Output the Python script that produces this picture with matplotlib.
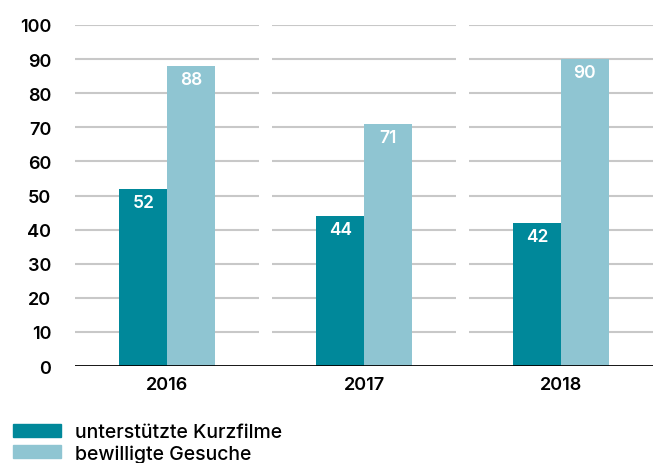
import matplotlib.pyplot as plt
import matplotlib.patches as mpatches
import numpy as np

plt.rcParams['font.family'] = ['Inter', 'DejaVu Sans']

# ----------------------------------------------------------------------------------------------------------------------
years = ['2016', '2017', '2018']
kurzfilme = [52, 44, 42]
gesuche = [88, 71, 90]
series_names = ['unterstützte Kurzfilme', 'bewilligte Gesuche']
y_ticks = [0, 10, 20, 30, 40, 50, 60, 70, 80, 90, 100]

dark = '#00889a'
light = '#8fc5d2'
# ----------------------------------------------------------------------------------------------------------------------

fig = plt.figure(figsize=(6.53, 4.64), dpi=100)
ax = fig.add_axes([0.115, 0.209, 0.885, 0.735])

x = np.arange(len(years))
w = 0.242

# grid segments, one per year group
for yv in y_ticks[1:]:
    ax.hlines(np.full(len(x), yv), x - 0.467, x + 0.467, color='#c8c8c8', lw=1.5, zorder=0)

b1 = ax.bar(x - w / 2, kurzfilme, w, color=dark, zorder=2)
b2 = ax.bar(x + w / 2, gesuche, w, color=light, zorder=2)

for bars, vals in [(b1, kurzfilme), (b2, gesuche)]:
    for bar, v in zip(bars, vals):
        ax.text(bar.get_x() + bar.get_width() / 2, v - 4, str(v), ha='center', va='center',
                color='white', fontsize=12.5, fontweight='semibold', zorder=3)

ax.axhline(0, color='black', lw=2, zorder=3)

ax.set_xlim(-0.467, 2.467)
ax.set_ylim(0, 100)
ax.set_yticks(y_ticks)
ax.set_xticks(x)
ax.set_xticklabels(years)
ax.tick_params(length=0, labelsize=13)
ax.tick_params(axis='y', pad=17)
ax.tick_params(axis='x', pad=7)
for lab in ax.get_xticklabels() + ax.get_yticklabels():
    lab.set_fontweight('semibold')
for s in ax.spines.values():
    s.set_visible(False)

handles = [mpatches.Patch(color=dark, label=series_names[0]),
           mpatches.Patch(color=light, label=series_names[1])]
leg = fig.legend(handles=handles, loc='upper left', bbox_to_anchor=(0.02, 0.086), frameon=False,
                 prop={'size': 14, 'weight': 'medium'}, handlelength=2.47, handleheight=0.62,
                 handletextpad=0.72, labelspacing=0.15, borderpad=0, borderaxespad=0)

fig.savefig('out.png', dpi=100)
